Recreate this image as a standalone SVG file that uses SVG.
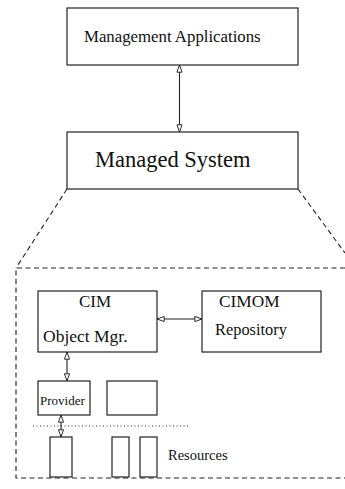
<svg xmlns="http://www.w3.org/2000/svg" width="345" height="489" viewBox="0 0 345 489">
<style>
.box{fill:#fff;stroke:#222;stroke-width:1.2}
.ln{fill:none;stroke:#222;stroke-width:1.1}
.dash{fill:none;stroke:#222;stroke-width:1.1;stroke-dasharray:5,3.5}
.dot{fill:none;stroke:#222;stroke-width:1;stroke-dasharray:1,2.5}
text{font-family:"Liberation Serif","Times New Roman",serif;fill:#111}
</style>
<defs>
<marker id="ah" viewBox="0 0 10 8" refX="9.5" refY="4" markerWidth="8" markerHeight="6.4" markerUnits="userSpaceOnUse" orient="auto-start-reverse">
<path d="M0.5,0.8 L9.5,4 L0.5,7.2 Z" fill="#fff" stroke="#222" stroke-width="1.2"/>
</marker>
</defs>
<rect width="345" height="489" fill="#fff"/>
<g id="connectors">
<line class="ln" x1="179.5" y1="65" x2="179.5" y2="132" marker-start="url(#ah)" marker-end="url(#ah)"/>
<line class="dash" x1="67" y1="189" x2="16" y2="268"/>
<line class="dash" x1="298" y1="189" x2="345" y2="253"/>
<line class="ln" x1="157" y1="319" x2="202" y2="319" marker-start="url(#ah)" marker-end="url(#ah)"/>
<line class="ln" x1="67" y1="352" x2="67" y2="381" marker-start="url(#ah)" marker-end="url(#ah)"/>
<line class="ln" x1="61" y1="415" x2="61" y2="437" marker-start="url(#ah)" marker-end="url(#ah)"/>
</g>
<g id="mgmt-apps">
<rect class="box" x="67" y="8" width="231" height="57"/>
<text x="84" y="42" font-size="16.8">Management Applications</text>
</g>
<g id="managed-system">
<rect class="box" x="67" y="132" width="231" height="57"/>
<text x="95" y="167" font-size="22.5">Managed System</text>
</g>
<g id="system-boundary">
<path class="dash" d="M345,268 H16 V478 H345"/>
</g>
<g id="cim-object-mgr">
<rect class="box" x="38" y="291" width="119" height="61"/>
<text x="79" y="307" font-size="17">CIM</text>
<text x="43" y="342" font-size="17.5">Object Mgr.</text>
</g>
<g id="cimom-repository">
<rect class="box" x="202" y="291" width="119" height="61"/>
<text x="219" y="307" font-size="17.3">CIMOM</text>
<text x="215" y="335" font-size="16.4">Repository</text>
</g>
<g id="provider">
<rect class="box" x="38" y="381" width="52" height="34"/>
<text x="40" y="405" font-size="13">Provider</text>
</g>
<g id="provider2">
<rect class="box" x="107" y="381" width="50" height="34"/>
</g>
<g id="divider">
<line class="dot" x1="33" y1="426" x2="189" y2="426"/>
</g>
<g id="resource1"><rect class="box" x="50" y="437" width="22" height="40"/></g>
<g id="resource2"><rect class="box" x="112" y="437" width="17" height="40"/></g>
<g id="resource3"><rect class="box" x="140" y="437" width="17" height="40"/></g>
<g id="resources-label">
<text x="168" y="460" font-size="14.5">Resources</text>
</g>
</svg>
